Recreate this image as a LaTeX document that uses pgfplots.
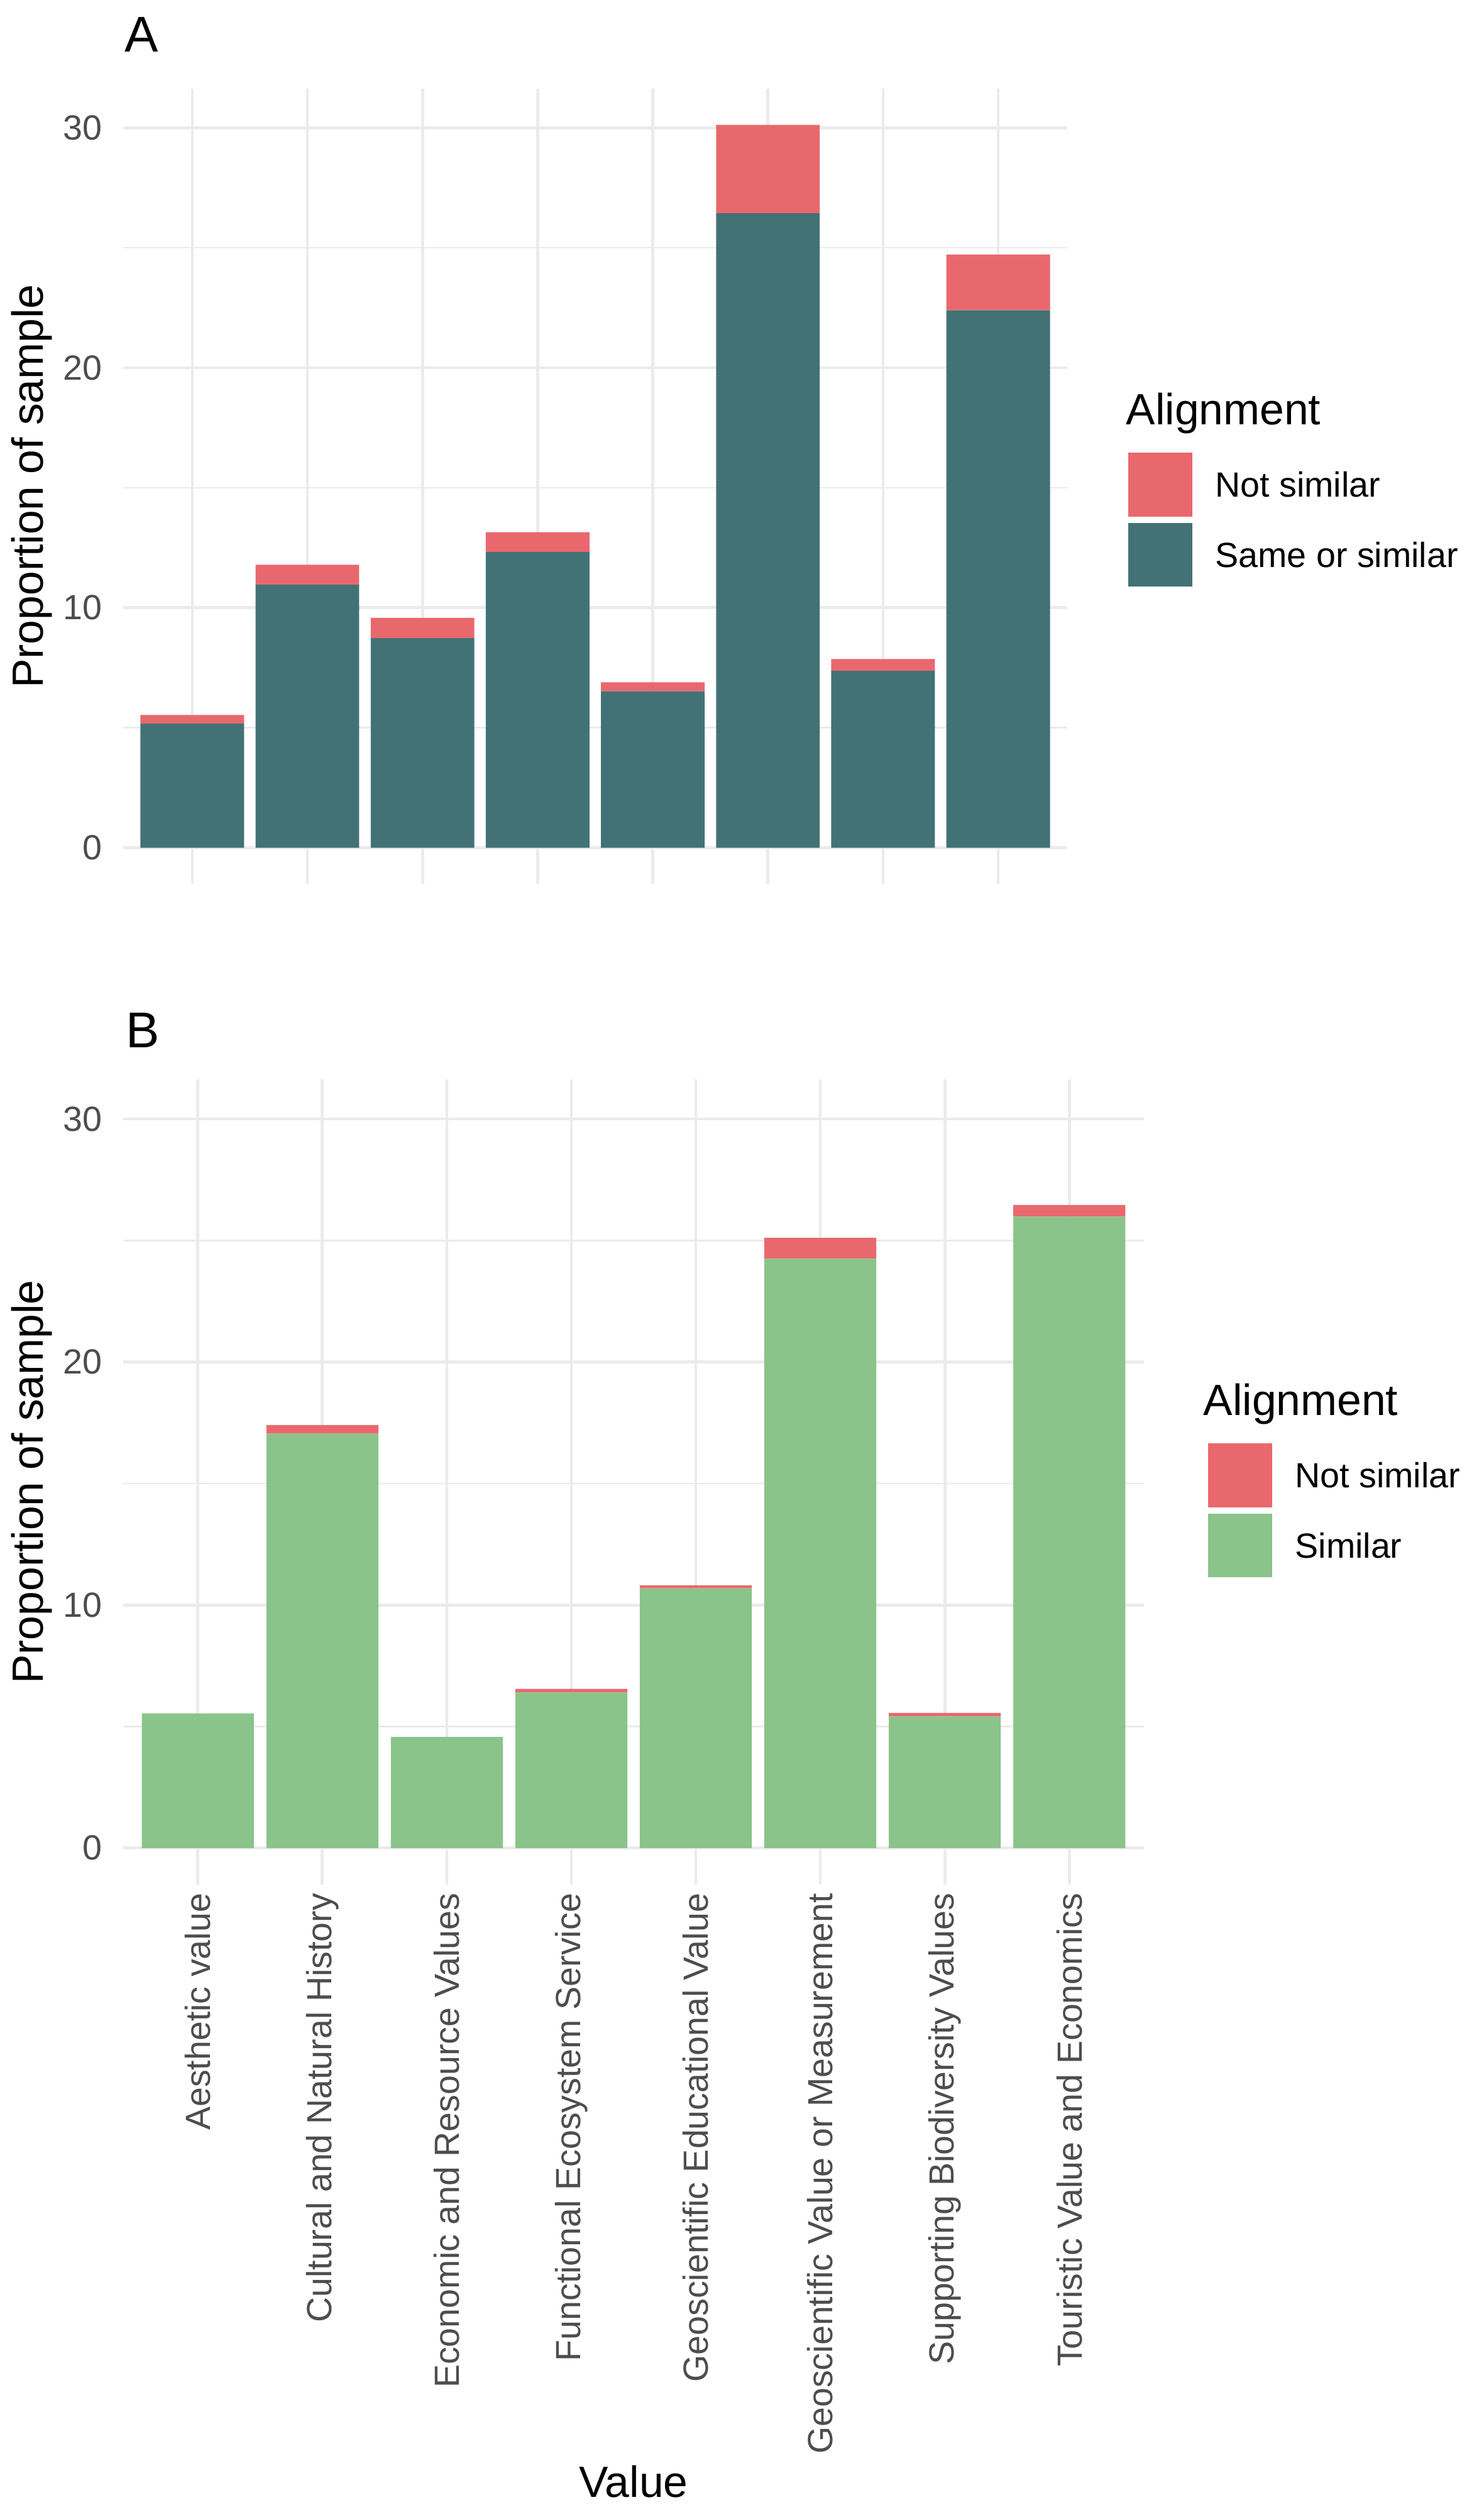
\documentclass[border=0pt]{standalone}
\usepackage{fontspec}
\setmainfont{Liberation Sans}
\usepackage{pgfplots}
\pgfplotsset{compat=1.18}
\definecolor{redc}{RGB}{233,104,109}
\definecolor{tealc}{RGB}{66,114,117}
\definecolor{greenc}{RGB}{138,196,138}
\definecolor{grid92}{RGB}{235,235,235}
\definecolor{grey30}{RGB}{77,77,77}
\newcommand{\ticksize}{\fontsize{13.9pt}{16pt}\selectfont}
\newcommand{\titlesize}{\fontsize{17.4pt}{20pt}\selectfont}
\newcommand{\tagsize}{\fontsize{20pt}{24pt}\selectfont}
\pgfplotsset{
 ggbase/.style={
  scale only axis,
  xmin=0.4, xmax=8.6, ymin=-1.506, ymax=31.63,
  enlargelimits=false,
  ybar stacked, bar width=0.9,
  xtick={1,...,8}, ytick={0,10,20,30}, minor ytick={5,15,25},
  xmajorgrids, ymajorgrids, yminorgrids,
  major grid style={draw=grid92, line width=1.2pt},
  minor grid style={draw=grid92, line width=0.6pt},
  axis line style={draw=none},
  major tick length=0pt, minor tick length=0pt,
  tick style={draw=none},
  /pgf/number format/assume math mode=true,
  yticklabel style={font=\ticksize, text=grey30, anchor=east, inner sep=0pt, xshift=-8.25pt},
  ylabel={Proportion of sample},
  label style={font=\titlesize},
  clip=false,
  legend cell align=left,
  legend style={draw=none, fill=none, inner sep=0pt, outer sep=0pt, anchor=north west,
    font=\ticksize, row sep=2.5pt, column sep=9.25pt,
    nodes={inner sep=0pt, text depth=0pt}, cells={anchor=west}},
 }
}
\begin{document}
\begin{tikzpicture}
\useasboundingbox (0pt,0pt) rectangle (590pt,-1001pt);
% Panel A
\begin{axis}[ggbase,
  at={(49pt,-351.5pt)}, anchor=south west,
  width=375.5pt, height=316.25pt,
  xticklabels={},
  ylabel style={at={(axis description cs:-0.0969,0.5)}, anchor=center},
  legend style={at={(axis description cs:1.0646,0.5423)}},
]
\addplot[fill=tealc, draw=none, forget plot] coordinates {(1,5.17) (2,10.96) (3,8.73) (4,12.32) (5,6.52) (6,26.44) (7,7.37) (8,22.39)};
\addplot[fill=redc, draw=none, forget plot] coordinates {(1,0.36) (2,0.83) (3,0.85) (4,0.83) (5,0.37) (6,3.68) (7,0.49) (8,2.33)};
\addlegendimage{legend image code/.code={\fill[redc] (0pt,-12.5pt) rectangle (25pt,12.5pt);}}
\addlegendentry{Not similar}
\addlegendimage{legend image code/.code={\fill[tealc] (0pt,-12.5pt) rectangle (25pt,12.5pt);}}
\addlegendentry{Same or similar}
\node[anchor=base west, font=\tagsize, inner sep=0pt] at (axis description cs:0.0013,1.0466) {A};
\node[anchor=base west, font=\titlesize, inner sep=0pt] at (axis description cs:1.0619,0.5771) {Alignment};
\end{axis}
% Panel B
\begin{axis}[ggbase,
  at={(49pt,-749.5pt)}, anchor=south west,
  width=406pt, height=320.25pt,
  xticklabels={Aesthetic value, Cultural and Natural History, Economic and Resource Values, Functional Ecosystem Service, Geoscientific Educational Value, Geoscientific Value or Measurement, Supporting Biodiversity Values, Touristic Value and Economics},
  xticklabel style={font=\ticksize, text=grey30, yshift=-3.25pt, rotate=90, anchor=east, inner sep=0pt},
  xlabel={Value},
  xlabel style={at={(axis description cs:0.5,-0.7603)}, anchor=base},
  ylabel style={at={(axis description cs:-0.0896,0.5)}, anchor=center},
  legend style={at={(axis description cs:1.0628,0.548)}},
]
\addplot[fill=greenc, draw=none, forget plot] coordinates {(1,5.54) (2,17.05) (3,4.57) (4,6.40) (5,10.69) (6,24.25) (7,5.42) (8,25.98)};
\addplot[fill=redc, draw=none, forget plot] coordinates {(1,0) (2,0.36) (3,0) (4,0.15) (5,0.12) (6,0.86) (7,0.14) (8,0.48)};
\addlegendimage{legend image code/.code={\fill[redc] (0pt,-12.5pt) rectangle (25pt,12.5pt);}}
\addlegendentry{Not similar}
\addlegendimage{legend image code/.code={\fill[greenc] (0pt,-12.5pt) rectangle (25pt,12.5pt);}}
\addlegendentry{Similar}
\node[anchor=base west, font=\tagsize, inner sep=0pt] at (axis description cs:0.002,1.0398) {B};
\node[anchor=base west, font=\titlesize, inner sep=0pt] at (axis description cs:1.0579,0.5824) {Alignment};
\end{axis}
\end{tikzpicture}
\end{document}
